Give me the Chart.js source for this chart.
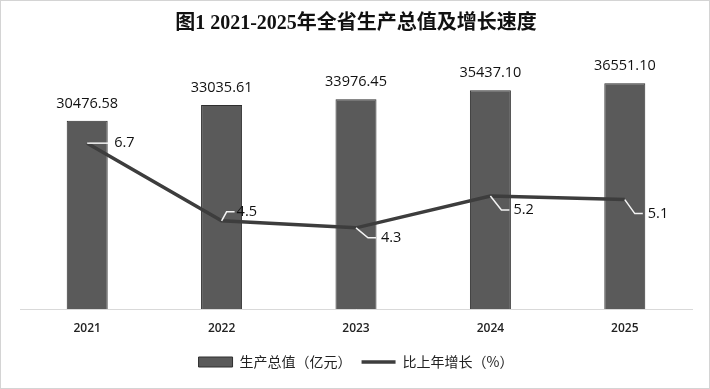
<!DOCTYPE html>
<html>
<head>
<meta charset="utf-8">
<script src="https://cdn.jsdelivr.net/npm/chart.js@4.4.1/dist/chart.umd.min.js"></script>
<style>
  html, body { margin: 0; padding: 0; background: #fff; }
  #wrap { width: 710px; height: 389px; position: relative; }
</style>
</head>
<body>
<div id="wrap"><canvas id="chart" width="710" height="389"></canvas></div>
<script>
// data
const years = ["2021", "2022", "2023", "2024", "2025"];
const gdp = [30476.58, 33035.61, 33976.45, 35437.10, 36551.10];
const growth = [6.7, 4.5, 4.3, 5.2, 5.1];
const seriesNames = ["生产总值（亿元）", "比上年增长（%）"];
const titleText = "图1 2021-2025年全省生产总值及增长速度";

const BAR_FILL = "#5a5a5a";
const BAR_EDGE = "#2e2e2e";
const LINE_COLOR = "#3d3d3d";
const NUM_FONT = '"Open Sans", "Liberation Sans", sans-serif';

// leader line shape for each growth label: elbow (ex, ey), end of horizontal (hx), text start (tx)
const leaders = [
  { ex: 0, ey: 0, hx: 21, tx: 27 },
  { ex: 5, ey: -9, hx: 13, tx: 15 },
  { ex: 12, ey: 10, hx: 20, tx: 25 },
  { ex: 11, ey: 14, hx: 19, tx: 23 },
  { ex: 10, ey: 14, hx: 18, tx: 23 }
];

// white page + thin grey frame
const framePlugin = {
  id: "frame",
  beforeDraw(chart) {
    const ctx = chart.ctx;
    ctx.save();
    ctx.fillStyle = "#fff";
    ctx.fillRect(0, 0, chart.width, chart.height);
    ctx.strokeStyle = "#d4d4d4";
    ctx.lineWidth = 1;
    ctx.strokeRect(0.5, 0.5, chart.width - 1, chart.height - 1);
    ctx.restore();
  }
};

// value labels above the bars
const barLabels = {
  id: "barLabels",
  afterDatasetsDraw(chart) {
    const ctx = chart.ctx;
    const meta = chart.getDatasetMeta(0);
    ctx.save();
    ctx.font = "14.5px " + NUM_FONT;
    ctx.fillStyle = "#111";
    ctx.textAlign = "center";
    ctx.textBaseline = "middle";
    meta.data.forEach((bar, i) => {
      ctx.fillText(gdp[i].toFixed(2), bar.x, bar.y - 17);
    });
    ctx.restore();
  }
};

// growth labels with white leader lines
const lineLabels = {
  id: "lineLabels",
  afterDatasetsDraw(chart) {
    const ctx = chart.ctx;
    const meta = chart.getDatasetMeta(1);
    ctx.save();
    meta.data.forEach((pt, i) => {
      const l = leaders[i];
      const x = pt.x, y = pt.y;
      ctx.strokeStyle = "#f4f4f4";
      ctx.lineWidth = 1.5;
      ctx.beginPath();
      ctx.moveTo(x, y);
      ctx.lineTo(x + l.ex, y + l.ey);
      ctx.lineTo(x + l.hx, y + l.ey);
      ctx.stroke();
      ctx.font = "14.5px " + NUM_FONT;
      ctx.fillStyle = "#111";
      ctx.textAlign = "left";
      ctx.textBaseline = "middle";
      ctx.fillText(growth[i].toFixed(1), x + l.tx, y + l.ey);
    });
    ctx.restore();
  }
};

new Chart(document.getElementById("chart"), {
  type: "bar",
  data: {
    labels: years,
    datasets: [
      {
        label: seriesNames[0],
        data: gdp,
        yAxisID: "y",
        backgroundColor: BAR_FILL,
        borderColor: BAR_EDGE,
        borderWidth: 1,
        categoryPercentage: 1,
        barPercentage: 0.305,
        order: 1
      },
      {
        type: "line",
        label: seriesNames[1],
        data: growth,
        yAxisID: "y1",
        borderColor: LINE_COLOR,
        backgroundColor: LINE_COLOR,
        borderWidth: 3.5,
        pointRadius: 0,
        tension: 0,
        order: 0
      }
    ]
  },
  options: {
    responsive: false,
    animation: false,
    layout: { padding: { left: 20, right: 18, top: 0, bottom: 10 } },
    scales: {
      x: {
        offset: true,
        grid: { display: false, drawTicks: false },
        border: { display: true, color: "#d9d9d9", width: 1 },
        ticks: {
          padding: 12,
          color: "#222",
          font: { family: NUM_FONT, size: 12, weight: "600" }
        },
        afterFit(scale) { scale.height = 36; }
      },
      y: { display: false, min: 0, max: 40000 },
      y1: { display: false, min: 2, max: 9, position: "right" }
    },
    plugins: {
      title: {
        display: true,
        text: titleText,
        color: "#111",
        font: { family: '"Liberation Serif", "Noto Sans CJK SC", serif', size: 20, weight: "bold" },
        padding: { top: 12, bottom: 26 }
      },
      legend: {
        position: "bottom",
        labels: {
          color: "#222",
          font: { family: '"Noto Sans CJK SC", sans-serif', size: 14 },
          usePointStyle: true,
          pointStyleWidth: 34,
          boxHeight: 10,
          padding: 10,
          generateLabels(chart) {
            const items = Chart.defaults.plugins.legend.labels.generateLabels(chart);
            items.forEach((it) => {
              if (it.datasetIndex === 0) {
                it.pointStyle = "rect";
                it.fillStyle = BAR_FILL;
                it.strokeStyle = BAR_EDGE;
                it.lineWidth = 1;
              } else {
                it.pointStyle = "line";
                it.strokeStyle = LINE_COLOR;
                it.lineWidth = 3.5;
              }
            });
            return items.sort((a, b) => a.datasetIndex - b.datasetIndex);
          }
        }
      },
      tooltip: { enabled: false }
    }
  },
  plugins: [framePlugin, barLabels, lineLabels]
});
</script>
</body>
</html>
